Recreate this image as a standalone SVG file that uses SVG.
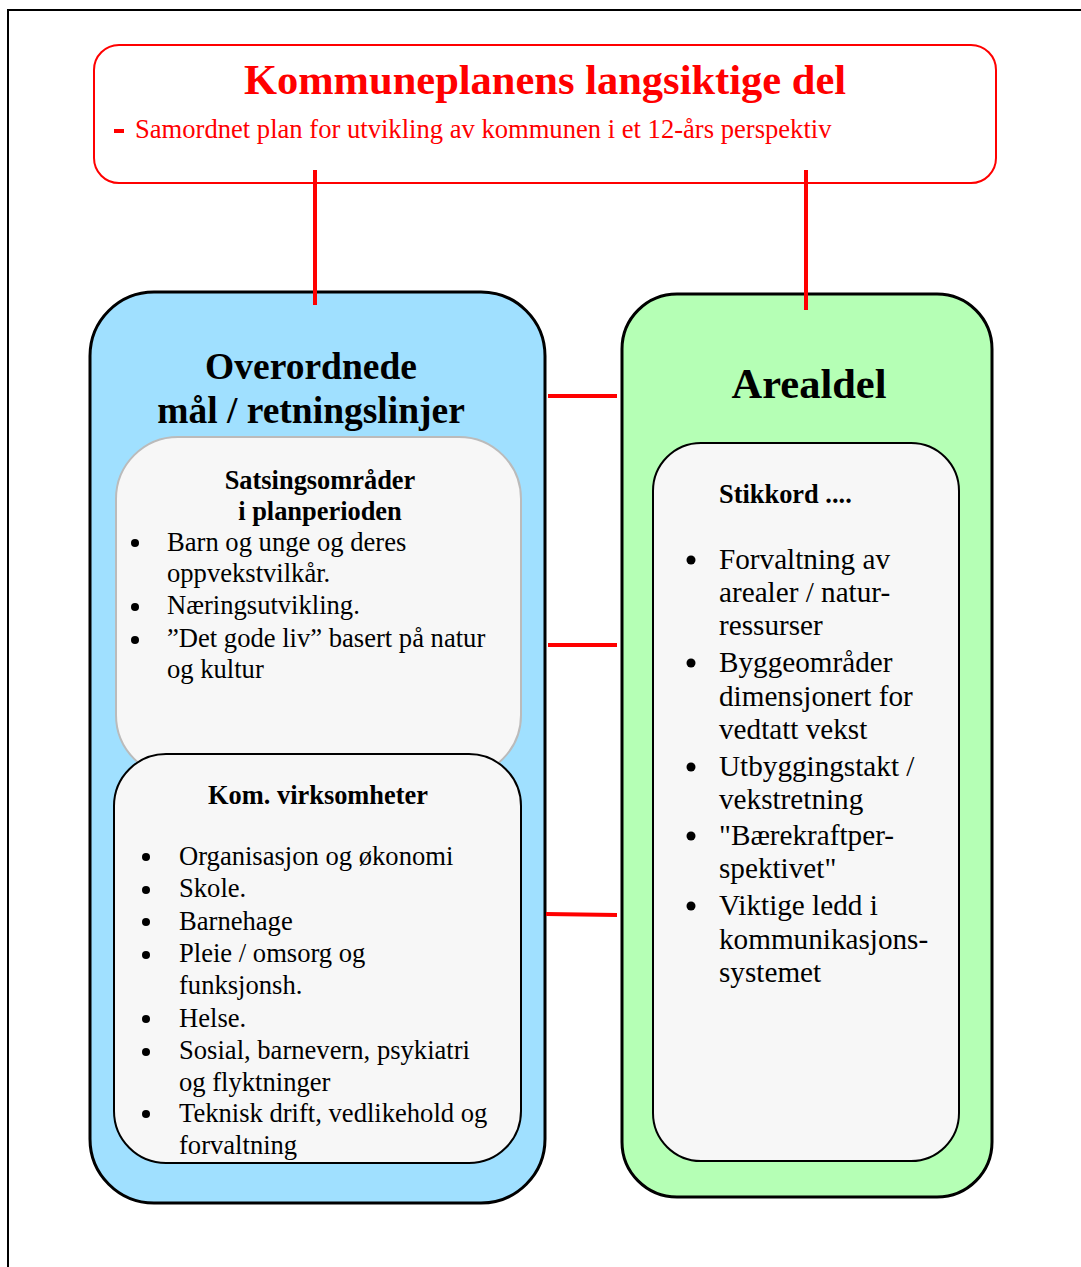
<svg xmlns="http://www.w3.org/2000/svg" width="1081" height="1267" viewBox="0 0 1081 1267">
<style>
.t{font-family:"Liberation Serif","Times New Roman",serif;fill:#000}
.b{font-weight:bold}
.li{font-size:26.6px}
.lr{font-size:29.2px}
.sh{font-size:26.4px;font-weight:bold}
.red{fill:#ff0000}
.con{stroke:#ff0000;stroke-width:4;fill:none}
</style>
<rect x="0" y="0" width="1081" height="1267" fill="#ffffff"/>
<rect x="8" y="10" width="1100" height="1300" fill="none" stroke="#000" stroke-width="2"/>
<g id="top">
<rect x="94" y="45" width="902" height="138" rx="25" ry="25" fill="#fff" stroke="#ff0000" stroke-width="2"/>
<text class="t b red" x="545" y="94" text-anchor="middle" font-size="42.5">Kommuneplanens langsiktige del</text>
<rect x="114" y="129" width="10" height="4" fill="#ff0000"/>
<text class="t red" x="135" y="138" font-size="26.6">Samordnet plan for utvikling av kommunen i et 12-års perspektiv</text>
</g>
<g id="left">
<rect x="90" y="292" width="455" height="911" rx="64" ry="64" fill="#a0e0ff" stroke="#000" stroke-width="3"/>
<text class="t b" x="311" y="379" text-anchor="middle" font-size="37.5">Overordnede</text>
<text class="t b" x="311" y="423" text-anchor="middle" font-size="37.5">mål / retningslinjer</text>
</g>
<g id="satsing">
<rect x="116" y="437" width="405" height="340" rx="62" ry="62" fill="#f7f7f7" stroke="#bbbbbb" stroke-width="2"/>
<text class="t sh" x="320" y="489" text-anchor="middle">Satsingsområder</text>
<text class="t sh" x="320" y="520" text-anchor="middle">i planperioden</text>
<g class="t li">
<circle cx="135" cy="543" r="4"/><text x="167" y="551">Barn og unge og deres</text>
<text x="167" y="582">oppvekstvilkår.</text>
<circle cx="135" cy="607" r="4"/><text x="167" y="614">Næringsutvikling.</text>
<circle cx="135" cy="640" r="4"/><text x="167" y="647">”Det gode liv” basert på natur</text>
<text x="167" y="678">og kultur</text>
</g>
</g>
<g id="kom">
<rect x="114" y="754" width="407" height="409" rx="52" ry="52" fill="#f7f7f7" stroke="#000" stroke-width="2"/>
<text class="t sh" x="318" y="804" text-anchor="middle">Kom. virksomheter</text>
<g class="t li">
<circle cx="146" cy="857" r="4"/><text x="179" y="865">Organisasjon og økonomi</text>
<circle cx="146" cy="890" r="4"/><text x="179" y="897">Skole.</text>
<circle cx="146" cy="922" r="4"/><text x="179" y="930">Barnehage</text>
<circle cx="146" cy="955" r="4"/><text x="179" y="962">Pleie / omsorg og</text>
<text x="179" y="994">funksjonsh.</text>
<circle cx="146" cy="1019" r="4"/><text x="179" y="1027">Helse.</text>
<circle cx="146" cy="1052" r="4"/><text x="179" y="1059">Sosial, barnevern,  psykiatri</text>
<text x="179" y="1091">og flyktninger</text>
<circle cx="146" cy="1114" r="4"/><text x="179" y="1122">Teknisk drift, vedlikehold og</text>
<text x="179" y="1154">forvaltning</text>
</g>
</g>
<g id="right">
<rect x="622" y="294" width="370" height="903" rx="55" ry="55" fill="#b5ffb5" stroke="#000" stroke-width="3"/>
<text class="t b" x="809" y="398" text-anchor="middle" font-size="42.5">Arealdel</text>
</g>
<g id="stikkord">
<rect x="653" y="443" width="306" height="718" rx="48" ry="48" fill="#f7f7f7" stroke="#000" stroke-width="2"/>
<text class="t sh" x="719" y="503">Stikkord ....</text>
<g class="t lr">
<circle cx="691" cy="560" r="4.5"/><text x="719" y="569">Forvaltning av</text>
<text x="719" y="602">arealer / natur-</text>
<text x="719" y="635">ressurser</text>
<circle cx="691" cy="663" r="4.5"/><text x="719" y="672">Byggeområder</text>
<text x="719" y="706">dimensjonert for</text>
<text x="719" y="739">vedtatt vekst</text>
<circle cx="691" cy="767" r="4.5"/><text x="719" y="776">Utbyggingstakt /</text>
<text x="719" y="809">vekstretning</text>
<circle cx="691" cy="836" r="4.5"/><text x="719" y="845">"Bærekraftper-</text>
<text x="719" y="878">spektivet"</text>
<circle cx="691" cy="906" r="4.5"/><text x="719" y="915">Viktige ledd i</text>
<text x="719" y="949">kommunikasjons-</text>
<text x="719" y="982">systemet</text>
</g>
</g>
<g id="connectors">
<line class="con" x1="315" y1="170" x2="315" y2="305"/>
<line class="con" x1="806" y1="170" x2="806" y2="310"/>
<line class="con" x1="548" y1="396" x2="617" y2="396"/>
<line class="con" x1="548" y1="645" x2="617" y2="645"/>
<line class="con" x1="546" y1="914" x2="617" y2="915"/>
</g>
</svg>
